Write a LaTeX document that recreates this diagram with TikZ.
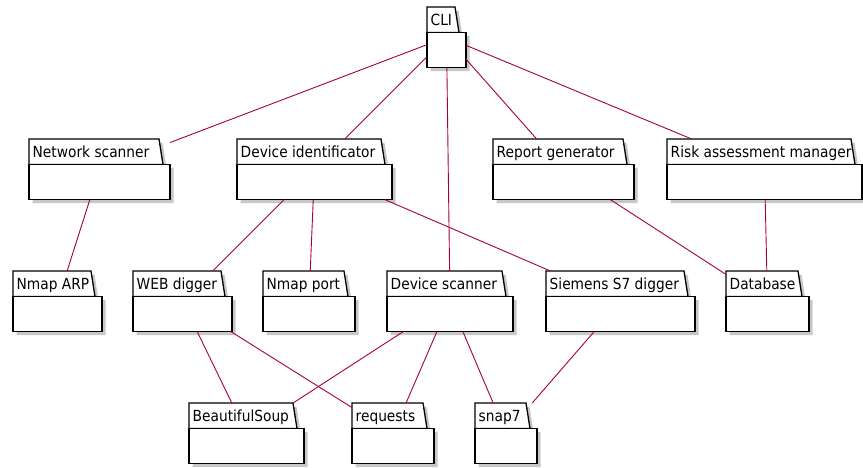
\documentclass[tikz,border=0pt]{standalone}
\usepackage{fontspec}
\setmainfont{DejaVu Sans Condensed}
\usetikzlibrary{fit}
\definecolor{linkred}{HTML}{A80036}
\tikzset{
pkg line/.style={draw=black, line width=1.3pt, fill=white, line join=miter},
pkg shadow/.style={fill=black!22},
pkg text/.style={anchor=base west, inner sep=0pt, font=\fontsize{15.3}{17}\selectfont},
pkg box/.style={inner sep=0pt},
link/.style={draw=linkred, line width=0.9pt}
}
\newcommand{\package}[5]{%
  \pgfmathsetmacro{\tabtr}{#3-11}
  \pgfmathsetmacro{\tabbr}{#3-7}
  \pgfmathsetmacro{\tabbot}{#4+25.5}
  \pgfmathsetmacro{\bodybot}{#4+60.5}
  \fill[pkg shadow] (#2+3.5,#4+3.5) -- (\tabtr+3.5,#4+3.5) -- (\tabbr+3.5,\tabbot+3.5) -- (#3+3.5,\tabbot+3.5) -- (#3+3.5,\bodybot+3.5) -- (#2+3.5,\bodybot+3.5) -- cycle;
  \draw[pkg line] (#2,#4) -- (\tabtr,#4) -- (\tabbr,\tabbot) -- (#2,\tabbot) -- cycle;
  \draw[pkg line] (#2,\tabbot) rectangle (#3,\bodybot);
  \node[pkg text] (#1-label) at (#2+3.5,#4+18.5) {#5};
  \path (#2,#4) coordinate (#1-nw) (#3,\bodybot) coordinate (#1-se);
  \node[pkg box, fit=(#1-nw)(#1-se)] (#1) {};
}
\begin{document}
\begin{tikzpicture}[x=1pt, y=-1pt]
    \useasboundingbox (0,0) rectangle (863,467);
    \package{cli}{427}{466}{7}{CLI}
    \package{netscan}{29}{170}{139}{Network scanner}
    \package{devid}{237}{392}{139}{Device identificator}
    \package{report}{493}{634}{139}{Report generator}
    \package{risk}{667}{862}{139}{Risk assessment manager}
    \package{nmaparp}{13}{102}{271}{Nmap ARP}
    \package{webdig}{133}{232}{271}{WEB digger}
    \package{nmapport}{263}{355}{271}{Nmap port}
    \package{devscan}{387}{513}{271}{Device scanner}
    \package{siemens}{546}{695}{271}{Siemens S7 digger}
    \package{database}{726}{809}{271}{Database}
    \package{bsoup}{189}{304}{403}{BeautifulSoup}
    \package{requests}{352}{434}{403}{requests}
    \package{snap}{475}{537}{403}{snap7}
    \draw[link] (cli) -- (netscan);
    \draw[link] (cli) -- (devid);
    \draw[link] (cli) -- (devscan);
    \draw[link] (cli) -- (report);
    \draw[link] (cli) -- (risk);
    \draw[link] (netscan) -- (nmaparp);
    \draw[link] (devid) -- (webdig);
    \draw[link] (devid) -- (nmapport);
    \draw[link] (devid) -- (siemens);
    \draw[link] (report) -- (database);
    \draw[link] (risk) -- (database);
    \draw[link] (webdig) -- (bsoup);
    \draw[link] (webdig) -- (requests);
    \draw[link] (devscan) -- (bsoup);
    \draw[link] (devscan) -- (requests);
    \draw[link] (devscan) -- (snap);
    \draw[link] (siemens) -- (snap);
\end{tikzpicture}
\end{document}
